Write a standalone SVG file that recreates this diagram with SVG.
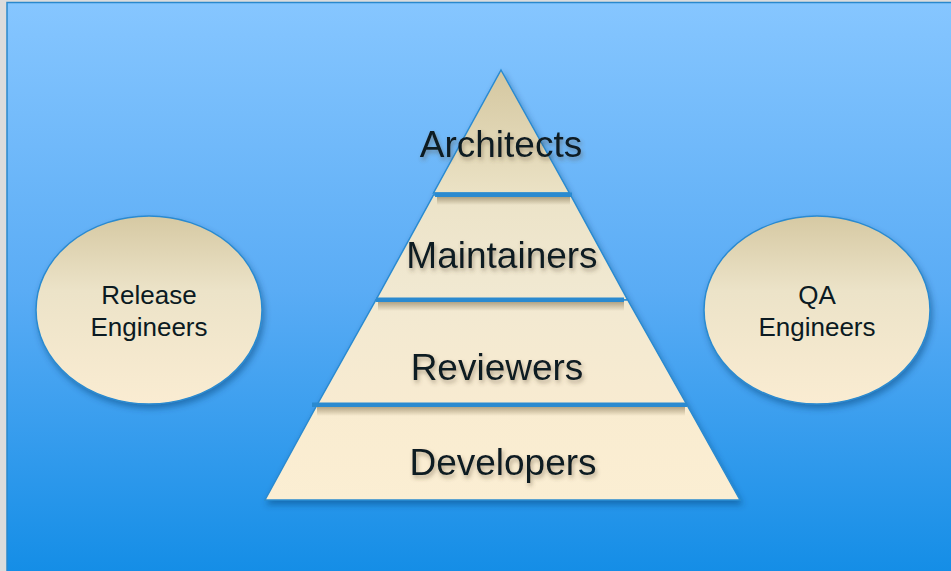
<svg xmlns="http://www.w3.org/2000/svg" width="951" height="571" viewBox="0 0 951 571">
<defs>
<linearGradient id="bg" x1="0" y1="0" x2="0" y2="1">
<stop offset="0" stop-color="#86c6ff"/>
<stop offset="0.5" stop-color="#5aacf5"/>
<stop offset="1" stop-color="#138de6"/>
</linearGradient>
<linearGradient id="tan" x1="0" y1="0" x2="0" y2="1">
<stop offset="0" stop-color="#d6c9a3"/>
<stop offset="0.4" stop-color="#ece3c8"/>
<stop offset="1" stop-color="#faecd2"/>
</linearGradient>
<linearGradient id="seg1" gradientUnits="userSpaceOnUse" x1="0" y1="70" x2="0" y2="193">
<stop offset="0" stop-color="#d4c7a0"/>
<stop offset="1" stop-color="#ebe2c5"/>
</linearGradient>
<linearGradient id="seg2" gradientUnits="userSpaceOnUse" x1="0" y1="195" x2="0" y2="300">
<stop offset="0" stop-color="#ece3c8"/>
<stop offset="1" stop-color="#f1e9d2"/>
</linearGradient>
<linearGradient id="seg3" gradientUnits="userSpaceOnUse" x1="0" y1="300" x2="0" y2="405">
<stop offset="0" stop-color="#f2e9d1"/>
<stop offset="1" stop-color="#f8ebd1"/>
</linearGradient>
<linearGradient id="seg4" gradientUnits="userSpaceOnUse" x1="0" y1="405" x2="0" y2="500">
<stop offset="0" stop-color="#f9ecd0"/>
<stop offset="1" stop-color="#fbeed3"/>
</linearGradient>
<linearGradient id="sh" x1="0" y1="0" x2="0" y2="1">
<stop offset="0" stop-color="#7a6a48" stop-opacity="0.55"/>
<stop offset="1" stop-color="#7a6a48" stop-opacity="0"/>
</linearGradient>
<filter id="ds" x="-20%" y="-20%" width="140%" height="140%">
<feDropShadow dx="2" dy="4" stdDeviation="3" flood-color="#0a3a70" flood-opacity="0.45"/>
</filter>
<filter id="ts" x="-10%" y="-30%" width="120%" height="160%">
<feDropShadow dx="1.5" dy="3" stdDeviation="2" flood-color="#5a4a30" flood-opacity="0.45"/>
</filter>
<style>
.seg{stroke:#2a8ad0;stroke-width:1.5}
.bar{fill:#2a8ad0}
.big{font-family:"Liberation Sans",Arial,sans-serif;font-size:37px;fill:#0b1a22;text-anchor:middle}
.small{font-family:"Liberation Sans",Arial,sans-serif;font-size:26px;fill:#0b1a22;text-anchor:middle}
.ell{fill:url(#tan);stroke:#2a8ad0;stroke-width:1.5}
</style>
</defs>
<rect x="0" y="0" width="951" height="571" fill="#dcdcdc"/>
<rect x="7" y="2.5" width="950" height="575" fill="url(#bg)" stroke="#2a88cc" stroke-width="1.5"/>

<g id="pyramid" filter="url(#ds)">
<g id="architects">
<polygon class="seg" fill="url(#seg1)" points="501,70 569.4,193 433.5,193"/>
</g>
<g id="maintainers">
<polygon class="seg" fill="url(#seg2)" points="433.5,195 570.5,195 627.7,300 375.9,300"/>
</g>
<g id="reviewers">
<polygon class="seg" fill="url(#seg3)" points="375.9,300 627.7,300 687,405 317,405"/>
</g>
<g id="developers">
<polygon class="seg" fill="url(#seg4)" points="317,405 687,405 740,500 265,500"/>
</g>
</g>
<g id="bars">
<rect x="437" y="197" width="133" height="8" fill="url(#sh)"/>
<rect x="378" y="302" width="246" height="9" fill="url(#sh)"/>
<rect x="317" y="407" width="368" height="9" fill="url(#sh)"/>
<rect class="bar" x="435" y="192.5" width="137" height="4.5"/>
<rect class="bar" x="376" y="297.5" width="248" height="4.5"/>
<rect class="bar" x="312" y="402.5" width="375" height="4.5"/>
</g>
<g id="labels" filter="url(#ts)">
<text class="big" x="501" y="157">Architects</text>
<text class="big" x="502" y="268">Maintainers</text>
<text class="big" x="497" y="380">Reviewers</text>
<text class="big" x="503" y="475">Developers</text>
</g>

<g id="release-engineers">
<ellipse class="ell" cx="149" cy="310" rx="113" ry="94" filter="url(#ds)"/>
<text class="small" x="149" y="304">Release</text>
<text class="small" x="149" y="336">Engineers</text>
</g>
<g id="qa-engineers">
<ellipse class="ell" cx="817" cy="310" rx="113" ry="94" filter="url(#ds)"/>
<text class="small" x="817" y="304">QA</text>
<text class="small" x="817" y="336">Engineers</text>
</g>
<g id="connectors"/>
</svg>
